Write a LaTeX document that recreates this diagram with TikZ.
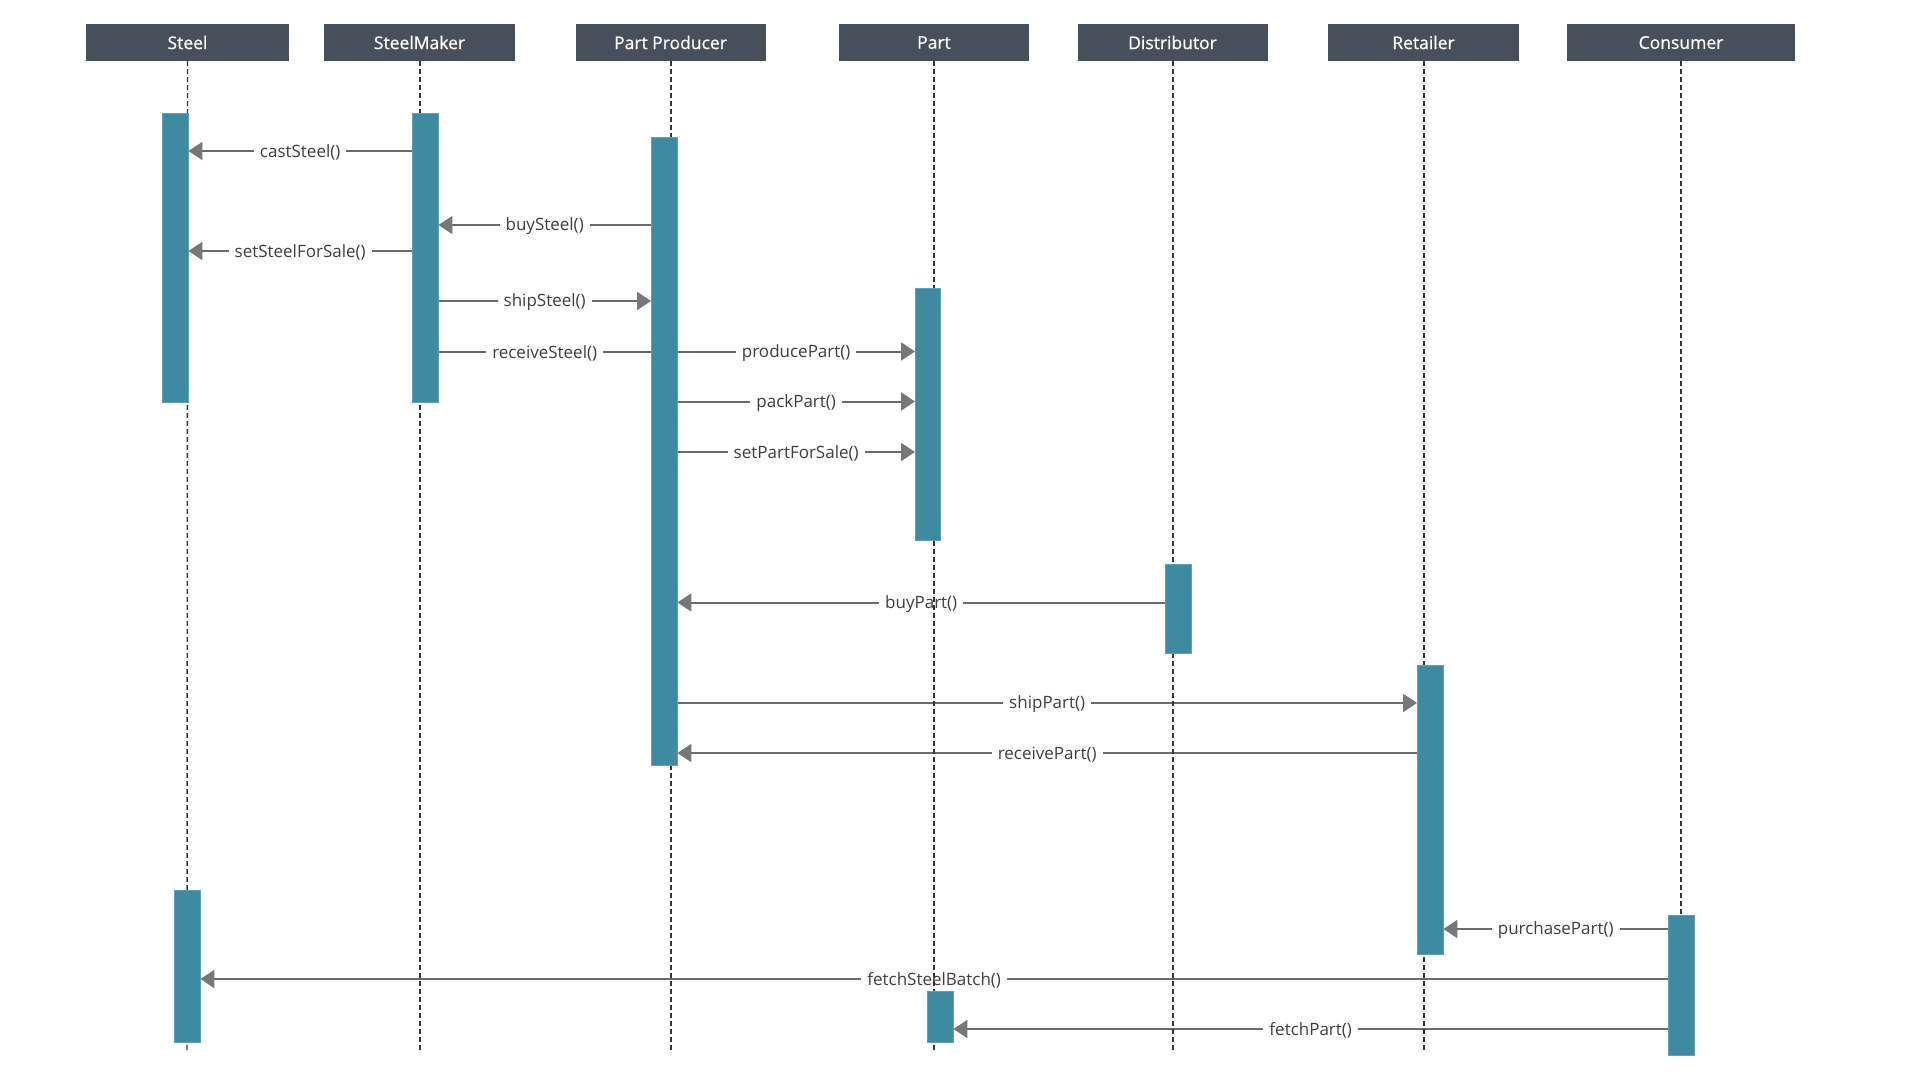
\documentclass[tikz,border=0pt]{standalone}
\usepackage{fontspec}
\setmainfont{Open Sans}
\usetikzlibrary{arrows.meta}
\definecolor{hdr}{HTML}{474F5A}
\definecolor{barc}{HTML}{3E8AA1}
\definecolor{barb}{HTML}{5FA2B6}
\definecolor{msgc}{HTML}{6B6B6B}
\definecolor{tipc}{HTML}{777777}
\definecolor{txtc}{HTML}{3F3F3F}
\definecolor{lifec}{HTML}{2F3640}
\tikzset{
  header/.style={fill=hdr, text=white, minimum height=37pt, inner sep=0pt, font=\fontsize{17.5}{20}\selectfont\addfontfeature{FakeBold=0.8}},
  lifeline/.style={draw=lifec, line width=1.4pt, dash pattern=on 5pt off 3pt},
  actbar/.style={inner sep=0pt, anchor=north west, minimum width=26pt},
  msg/.style={draw=msgc, line width=2pt},
  msgarrow/.style={msg, -{Triangle[length=14pt,width=18pt,color=tipc]}},
  lbl/.style={fill=white, text=txtc, inner xsep=6pt, inner ysep=1pt, yshift=-1.5pt, font=\fontsize{17}{20}\selectfont}
}
\begin{document}
\begin{tikzpicture}[x=1pt,y=-1pt]
\useasboundingbox (0,0) rectangle (1920,1080);
% headers
\node[header, minimum width=203pt] (hSt) at (187.5,42.5) {\raisebox{-1.5pt}{Steel}};
\node[header, minimum width=191pt] (hSm) at (419.5,42.5) {\raisebox{-1.5pt}{SteelMaker}};
\node[header, minimum width=190pt] (hPp) at (670.5,42.5) {\raisebox{-1.5pt}{Part Producer}};
\node[header, minimum width=190pt] (hPt) at (934,42.5) {\raisebox{-1.5pt}{Part}};
\node[header, minimum width=190pt] (hDi) at (1172.5,42.5) {\raisebox{-1.5pt}{Distributor}};
\node[header, minimum width=191pt] (hRe) at (1423.5,42.5) {\raisebox{-1.5pt}{Retailer}};
\node[header, minimum width=228pt] (hCo) at (1681,42.5) {\raisebox{-1.5pt}{Consumer}};
% lifeline ends
\coordinate (eSt) at (187,1051);
\coordinate (eSm) at (420,1051);
\coordinate (ePp) at (671,1051);
\coordinate (ePt) at (934,1051);
\coordinate (eDi) at (1173,1051);
\coordinate (eRe) at (1424,1051);
\coordinate (eCo) at (1681,1051);
% activation bars (named now, painted after the lifelines)
\path (162,113) node[actbar, minimum height=289pt] (stA) {};
\path (412,113) node[actbar, minimum height=289pt] (smA) {};
\path (651,137) node[actbar, minimum height=628pt] (ppA) {};
\path (915,288) node[actbar, minimum height=252pt, minimum width=25pt] (ptA) {};
\path (1165,564) node[actbar, minimum height=89pt] (diA) {};
\path (1417,665) node[actbar, minimum height=289pt] (reA) {};
\path (1668,915) node[actbar, minimum height=140pt] (coA) {};
\path (174,890) node[actbar, minimum height=152pt] (stB) {};
\path (927,991) node[actbar, minimum height=51pt] (ptB) {};
% messages
\draw[msgarrow] (smA.west |- 0,151) -- node[lbl] (l1) {castSteel()} (stA.east |- 0,151);
\draw[msgarrow] (ppA.west |- 0,225) -- node[lbl] (l2) {buySteel()} (smA.east |- 0,225);
\draw[msgarrow] (smA.west |- 0,251) -- node[lbl] (l3) {setSteelForSale()} (stA.east |- 0,251);
\draw[msgarrow] (smA.east |- 0,301) -- node[lbl] (l4) {shipSteel()} (ppA.west |- 0,301);
\draw[msg] (smA.east |- 0,351.5) -- node[lbl] (l5) {receiveSteel()} (ppA.west |- 0,351.5);
\draw[msgarrow] (ppA.east |- 0,351.5) -- node[lbl] (l6) {producePart()} (ptA.west |- 0,351.5);
\draw[msgarrow] (ppA.east |- 0,401.5) -- node[lbl] (l7) {packPart()} (ptA.west |- 0,401.5);
\draw[msgarrow] (ppA.east |- 0,452) -- node[lbl] (l8) {setPartForSale()} (ptA.west |- 0,452);
\draw[msgarrow] (diA.west |- 0,602.5) -- node[lbl] (l9) {buyPart()} (ppA.east |- 0,602.5);
\draw[msgarrow] (ppA.east |- 0,703) -- node[lbl] (l10) {shipPart()} (reA.west |- 0,703);
\draw[msgarrow] (reA.west |- 0,753) -- node[lbl] (l11) {receivePart()} (ppA.east |- 0,753);
\draw[msgarrow] (coA.west |- 0,929) -- node[lbl] (l12) {purchasePart()} (reA.east |- 0,929);
\draw[msgarrow] (coA.west |- 0,979) -- node[lbl] (l13) {fetchSteelBatch()} (stB.east |- 0,979);
\draw[msgarrow] (coA.west |- 0,1029) -- node[lbl] (l14) {fetchPart()} (ptB.east |- 0,1029);
% lifelines
\draw[lifeline] (hSt.south) -- (eSt);
\draw[lifeline] (hSm.south -| eSm) -- (eSm);
\draw[lifeline] (hPp.south -| ePp) -- (ePp);
\draw[lifeline] (hPt.south) -- (ePt);
\draw[lifeline] (hDi.south -| eDi) -- (eDi);
\draw[lifeline] (hRe.south -| eRe) -- (eRe);
\draw[lifeline] (hCo.south) -- (eCo);
% paint bars
\foreach \b in {stA,smA,ppA,ptA,diA,reA,coA,stB,ptB}
  \draw[fill=barc, draw=barb, line width=1pt] (\b.north west) rectangle (\b.south east);
\end{tikzpicture}
\end{document}
